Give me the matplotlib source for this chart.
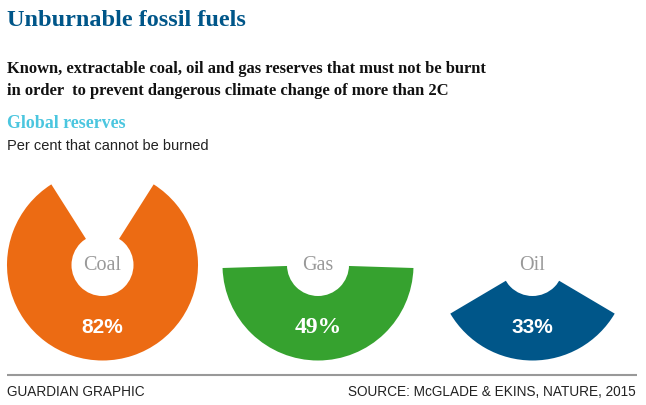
"""Unburnable fossil fuels: share of reserves that cannot be burned, drawn as
bottom-centred pie wedges with a white hub. Writes out.png (646x406)."""
import matplotlib
matplotlib.use('Agg')
import matplotlib.pyplot as plt
from matplotlib.patches import Wedge, Circle

fuels = ['Coal', 'Gas', 'Oil']
unburnable_pct = [82, 49, 33]
fuel_colors = ['#ec6b13', '#36a22f', '#005689']
# the gas figure is set in the serif face in the original graphic
pct_fonts = [('Liberation Sans', 15), ('Liberation Serif', 17), ('Liberation Sans', 15)]

TITLE = 'Unburnable fossil fuels'
SUBTITLE = ('Known, extractable coal, oil and gas reserves that must not be burnt\n'
            'in order  to prevent dangerous climate change of more than 2C')
SECTION = 'Global reserves'
UNITS = 'Per cent that cannot be burned'
CREDIT = 'GUARDIAN GRAPHIC'
SOURCE = 'SOURCE: McGLADE & EKINS, NATURE, 2015'

W, H = 646, 406
BLUE = '#005689'
CYAN = '#4bc6df'
GREY = '#999999'
SANS = 'Liberation Sans'


def main():
    fig = plt.figure(figsize=(W / 100, H / 100), dpi=100)
    ax = fig.add_axes([0, 0, 1, 1])
    ax.set_xlim(0, W)
    ax.set_ylim(H, 0)   # pixel-like coords, y downwards
    ax.axis('off')

    # -- header
    ax.text(7, 20, TITLE, family='Liberation Serif', weight='bold', size=17.5,
            color=BLUE, va='center', ha='left')
    ax.text(7, 80, SUBTITLE, family='Liberation Serif', weight='bold', size=11.9,
            color='#111111', va='center', ha='left', linespacing=1.45)
    ax.text(7, 124, SECTION, family='Liberation Serif', weight='bold', size=12.9,
            color=CYAN, va='center', ha='left')
    ax.text(7, 146, UNITS, family=SANS, size=10.5, color='#222222',
            va='center', ha='left')

    # -- wedges: centred on the downward direction (90 deg with y inverted)
    cy, R, r = 266, 95.5, 31
    xs = [102.5, 318, 532.5]
    for cx, name, pct, col, (pf, ps) in zip(xs, fuels, unburnable_pct,
                                             fuel_colors, pct_fonts):
        half = pct / 100 * 180
        ax.add_patch(Wedge((cx, cy), R, 90 - half, 90 + half, facecolor=col,
                           edgecolor='none'))
        ax.add_patch(Circle((cx, cy), r, facecolor='white', edgecolor='none'))
        ax.text(cx, cy, name, family='Liberation Serif', size=14.5, color=GREY,
                ha='center', va='center')
        ax.text(cx, cy + 62, f'{pct}%', family=pf, weight='bold', size=ps,
                color='white', ha='center', va='center')

    # -- footer
    ax.plot([7, 637], [376, 376], color=GREY, lw=1.5, solid_capstyle='butt')
    ax.text(7, 392, CREDIT, family=SANS, size=9.8, color='#222222',
            ha='left', va='center')
    ax.text(636, 392, SOURCE, family=SANS, size=9.8, color='#222222',
            ha='right', va='center')

    fig.savefig('out.png', dpi=100, facecolor='white')


if __name__ == '__main__':
    main()
